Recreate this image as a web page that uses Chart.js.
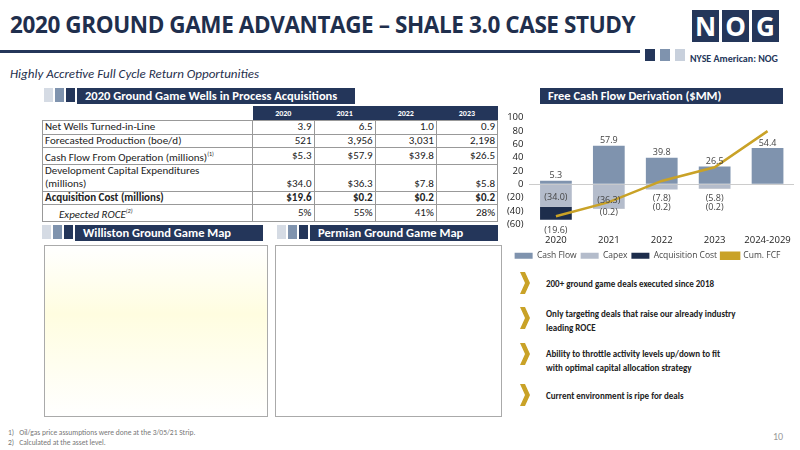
<!DOCTYPE html>
<html><head><meta charset="utf-8">
<script src="https://cdn.jsdelivr.net/npm/chart.js@4"></script>
<style>
body{margin:0;width:800px;height:450px;background:#fff;font-family:Calibri,"Liberation Sans","Open Sans",sans-serif;position:relative;overflow:hidden;color:#222}
.abs{position:absolute}
.title{left:10px;top:9px;font-size:22.5px;font-weight:bold;color:#1f2f4d;font-family:"Open Sans",sans-serif;letter-spacing:-0.4px}
.banner{background:#24365a;color:#fff;font-weight:bold;font-size:12.5px;height:16px;line-height:16px;padding-left:8px}
.sq{width:9px;height:14px}
table{border-collapse:collapse;font-size:11px}
td{border:1px solid #999;padding:0 2px;line-height:12.6px}
td.n{text-align:right}
th{background:#24365a;color:#fff;font-size:8px;height:12px}
.bul{left:520px;font-size:9px;font-weight:bold;color:#222}
.chev{left:520px;width:10px;height:22px;background:#c9a227;clip-path:polygon(0 0,50% 0,100% 50%,50% 100%,0 100%,50% 50%)}
.map{border:1px solid #aaa;background:#fff}
</style></head><body>
<div class="abs title">2020 GROUND GAME ADVANTAGE – SHALE 3.0 CASE STUDY</div>
<div class="abs" style="left:0;top:50px;width:640px;height:3px;background:#24365a"></div>
<div class="abs" style="left:645px;top:49px;width:10px;height:12px;background:#24365a"></div>
<div class="abs" style="left:660px;top:49px;width:10px;height:12px;background:#7f93ae"></div>
<div class="abs" style="left:675px;top:49px;width:10px;height:12px;background:#c8d0dc"></div>
<div class="abs" style="left:692px;top:10px;display:flex;gap:3px">
 <div style="width:27px;height:32px;background:#24365a;color:#fff;font:bold 26px 'Open Sans';text-align:center;line-height:32px">N</div>
 <div style="width:27px;height:32px;background:#24365a;color:#fff;font:bold 26px 'Open Sans';text-align:center;line-height:32px">O</div>
 <div style="width:27px;height:32px;background:#24365a;color:#fff;font:bold 26px 'Open Sans';text-align:center;line-height:32px">G</div>
</div>
<div class="abs" style="left:690px;top:52px;font-size:10px;font-weight:bold;color:#24365a">NYSE American: NOG</div>
<div class="abs" style="left:10px;top:66px;font-size:13px;font-style:italic;color:#1f2f4d">Highly Accretive Full Cycle Return Opportunities</div>

<div class="abs" style="left:44px;top:88px;display:flex;gap:2px">
 <div class="sq" style="background:#d5dbe4"></div><div class="sq" style="background:#7f93ae"></div><div class="sq" style="background:#24365a"></div>
 <div class="banner" style="width:270px">2020 Ground Game Wells in Process Acquisitions</div></div>
<table class="abs" style="left:42px;top:106px;width:456px" id="tbl"></table>

<div class="abs" style="left:42px;top:225px;display:flex;gap:2px">
 <div class="sq" style="background:#d5dbe4"></div><div class="sq" style="background:#7f93ae"></div><div class="sq" style="background:#24365a"></div>
 <div class="banner" style="width:180px">Williston Ground Game Map</div></div>
<div class="abs" style="left:277px;top:225px;display:flex;gap:2px">
 <div class="sq" style="background:#d5dbe4"></div><div class="sq" style="background:#7f93ae"></div><div class="sq" style="background:#24365a"></div>
 <div class="banner" style="width:180px">Permian Ground Game Map</div></div>
<div class="abs map" style="left:44px;top:245px;width:222px;height:170px;background:linear-gradient(180deg,#fff 0,#fffde0 40%,#fff 100%)"></div>
<div class="abs map" style="left:275px;top:245px;width:225px;height:170px"></div>

<div class="abs" style="left:540px;top:88px;display:flex;gap:2px">
 <div class="banner" style="width:235px">Free Cash Flow Derivation ($MM)</div></div>
<div class="abs" style="left:501px;top:106px;width:299px;height:164px"><canvas id="c"></canvas></div>

<div class="abs chev" style="top:272px"></div><div class="abs bul" style="left:546px;top:278px">200+ ground game deals executed since 2018</div>
<div class="abs chev" style="top:307px"></div><div class="abs bul" style="left:546px;top:307px;line-height:14px">Only targeting deals that raise our already industry<br>leading ROCE</div>
<div class="abs chev" style="top:343px"></div><div class="abs bul" style="left:546px;top:347px;line-height:14px">Ability to throttle activity levels up/down to fit<br>with optimal capital allocation strategy</div>
<div class="abs chev" style="top:384px"></div><div class="abs bul" style="left:546px;top:390px">Current environment is ripe for deals</div>

<div class="abs" style="left:8px;top:428px;font-size:7.5px;color:#777;line-height:10px">1)&nbsp;&nbsp;&nbsp;Oil/gas price assumptions were done at the 3/05/21 Strip.<br>2)&nbsp;&nbsp;&nbsp;Calculated at the asset level.</div>
<div class="abs" style="left:773px;top:430px;font-size:10px;color:#999">10</div>

<script>
// table data
const years = ["2020", "2021", "2022", "2023"];
const netWells = ["3.9", "6.5", "1.0", "0.9"];
const production = ["521", "3,956", "3,031", "2,198"];
const cashFlowTxt = ["$5.3", "$57.9", "$39.8", "$26.5"];
const capexTxt = ["$34.0", "$36.3", "$7.8", "$5.8"];
const acqTxt = ["$19.6", "$0.2", "$0.2", "$0.2"];
const roce = ["5%", "55%", "41%", "28%"];

// chart data
const periods = ["2020", "2021", "2022", "2023", "2024-2029"];
const cashFlow = [5.3, 57.9, 39.8, 26.5, 54.4];
const capex = [-34.0, -36.3, -7.8, -5.8, 0];
const acquisition = [-19.6, -0.2, -0.2, -0.2, 0];
const cumFcf = [-48.3, -26.9, 4.9, 25.4, 79.8];

function row(label, vals) {
  return `<tr><td style="width:205px">${label}</td>` +
    vals.map(v => `<td class="n">${v}</td>`).join("") + "</tr>";
}
document.getElementById("tbl").innerHTML =
  `<tr><td style="border:none"></td>${years.map(y => `<th>${y}</th>`).join("")}</tr>` +
  row("Net Wells Turned-in-Line", netWells) +
  row("Forecasted Production (boe/d)", production) +
  row("Cash Flow From Operation (millions)<sup style='font-size:6px'>(1)</sup>", cashFlowTxt) +
  `<tr><td>Development Capital Expenditures<br>(millions)</td>${capexTxt.map(v => `<td class="n" style="vertical-align:bottom">${v}</td>`).join("")}</tr>` +
  row("<b>Acquisition Cost (millions)</b>", acqTxt.map(v => `<b>${v}</b>`)) +
  row("<i style='padding-left:14px'>Expected ROCE<sup style='font-size:6px'>(2)</sup></i>", roce);

const fmt = v => v < 0 ? `(${Math.abs(v).toFixed(1)})` : v.toFixed(1);

const barLabels = {
  id: "barLabels",
  afterDatasetsDraw(chart) {
    const ctx = chart.ctx;
    ctx.save();
    ctx.font = "9px 'Open Sans'";
    ctx.fillStyle = "#444";
    ctx.textAlign = "center";
    const y = chart.scales.y;
    const z = y.getPixelForValue(0);
    chart.getDatasetMeta(0).data.forEach((b, i) => {
      ctx.fillText(fmt(cashFlow[i]), b.x, b.y - 5);
    });
    chart.getDatasetMeta(1).data.forEach((b, i) => {
      if (!capex[i]) return;
      const yy = i === 0 ? y.getPixelForValue(-20) : z + 14;
      ctx.fillText(fmt(capex[i]), b.x, i === 1 ? y.getPixelForValue(-25) : yy);
    });
    chart.getDatasetMeta(2).data.forEach((b, i) => {
      if (!acquisition[i]) return;
      let yy = z + 23;
      if (i === 0) yy = b.y + 11;
      if (i === 1) yy = y.getPixelForValue(-43);
      ctx.fillText(fmt(acquisition[i]), b.x, yy);
    });
    ctx.restore();
  }
};

new Chart(document.getElementById("c"), {
  data: {
    labels: periods,
    datasets: [
      { type: "bar", label: "Cash Flow", data: cashFlow, backgroundColor: "#7f93ae", stack: "s", barPercentage: 0.6, categoryPercentage: 1, order: 2 },
      { type: "bar", label: "Capex", data: capex, backgroundColor: "#b4bccb", stack: "s", barPercentage: 0.6, categoryPercentage: 1, order: 2 },
      { type: "bar", label: "Acquisition Cost", data: acquisition, backgroundColor: "#1d2d4c", stack: "s", barPercentage: 0.6, categoryPercentage: 1, order: 2 },
      { type: "line", label: "Cum. FCF", data: cumFcf, borderColor: "#c9a227", backgroundColor: "#c9a227", borderWidth: 2.5, pointRadius: 0, tension: 0, order: 1 }
    ]
  },
  options: {
    responsive: true, maintainAspectRatio: false, animation: false,
    layout: { padding: { right: 6, top: 2 } },
    plugins: {
      legend: {
        position: "bottom",
        labels: { boxWidth: 18, boxHeight: 6, font: { size: 8.5, family: "'Open Sans'" }, color: "#444", padding: 4,
          sort: (a, b) => a.datasetIndex - b.datasetIndex }
      },
      tooltip: { enabled: false }
    },
    scales: {
      x: { stacked: true, grid: { display: false }, border: { display: false }, ticks: { padding: 2, font: { size: 9.5, family: "'Open Sans'" }, color: "#222" } },
      y: {
        stacked: true, min: -60, max: 100,
        ticks: { stepSize: 20, autoSkip: false, padding: 6, font: { size: 9.5, family: "'Open Sans'" }, color: "#222", callback: v => v < 0 ? `(${-v})` : v },
        grid: { color: c => c.tick.value === 0 ? "#ccc" : "transparent", drawTicks: false },
        border: { display: false }
      }
    }
  },
  plugins: [barLabels]
});
</script>
</body></html>
